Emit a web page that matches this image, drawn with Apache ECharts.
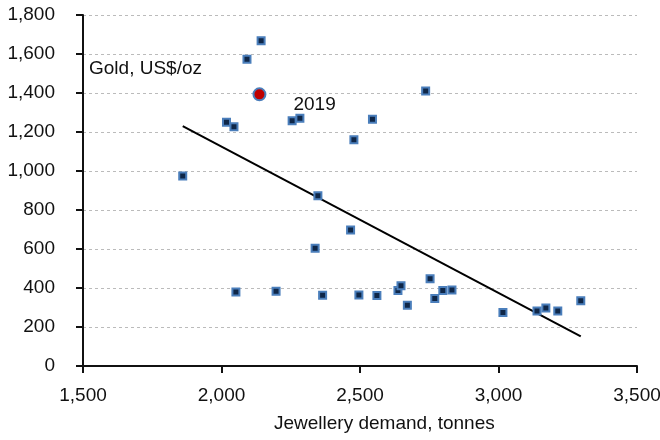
<!DOCTYPE html>
<html>
<head>
<meta charset="utf-8">
<script src="https://cdn.jsdelivr.net/npm/echarts@6/dist/echarts.min.js"></script>
<style>
  html, body { margin: 0; padding: 0; background: #fff; }
  #chart { width: 660px; height: 440px; }
</style>
</head>
<body>
<div id="chart"></div>
<script>
// jewellery demand (tonnes) vs gold price (US$/oz)
const demand = [1860, 2018, 2045, 2092, 2143, 2255, 2283, 2348, 2737, 2545, 2478, 2338, 2052, 2197, 2365, 2466,
  2496, 2561, 2637, 2648, 2671, 2753, 2770, 2799, 2832, 3016, 3139, 3171, 3214, 3297]
const price = [975, 1250, 1227, 1573, 1668, 1258, 1270, 873, 1410, 1266, 1160, 604, 380, 383, 363, 697,
  364, 361, 387, 411, 312, 447, 346, 387, 390, 274, 282, 298, 282, 334]
// 2019 highlighted
const point2019 = [2137, 1393]
// linear trend end points
const trendX = [1860, 3297]
const trendY = [1230, 152]

const FONT = '"Liberation Sans", Arial, sans-serif'
const FS = 19

const chart = echarts.init(document.getElementById('chart'))
chart.setOption({
  animation: false,
  backgroundColor: '#fff',
  textStyle: { fontFamily: FONT },
  grid: { left: 83, right: 23, top: 15, bottom: 74, outerBoundsMode: 'none', containLabel: false },
  graphic: [
    {
      type: 'text',
      left: 89,
      top: 59,
      style: { text: 'Gold, US$/oz', fontSize: FS, fontFamily: FONT, fill: '#111' }
    },
    {
      type: 'text',
      left: 274,
      top: 414,
      style: { text: 'Jewellery demand, tonnes', fontSize: FS, fontFamily: FONT, fill: '#111' }
    }
  ],
  xAxis: {
    type: 'value',
    min: 1500,
    max: 3500,
    interval: 500,
    axisLine: { show: true, lineStyle: { color: '#111', width: 2 } },
    axisTick: { show: true, length: 7, lineStyle: { color: '#111', width: 2 } },
    axisLabel: {
      color: '#111',
      fontSize: FS,
      margin: 20,
      formatter: v => v.toLocaleString('en-US')
    },
    splitLine: { show: false }
  },
  yAxis: {
    type: 'value',
    min: 0,
    max: 1800,
    interval: 200,
    axisLine: { show: true, lineStyle: { color: '#111', width: 2 } },
    axisTick: { show: true, length: 7, lineStyle: { color: '#111', width: 2 } },
    axisLabel: {
      color: '#111',
      fontSize: FS,
      margin: 28,
      formatter: v => v.toLocaleString('en-US')
    },
    splitLine: { show: true, lineStyle: { color: '#bbb', type: [3, 3], width: 1 } }
  },
  series: [
    {
      type: 'line',
      data: trendX.map((x, i) => [x, trendY[i]]),
      symbol: 'none',
      lineStyle: { color: '#000', width: 2 },
      z: 2
    },
    {
      type: 'scatter',
      data: demand.map((x, i) => [x, price[i]]),
      symbol: 'rect',
      symbolSize: 7,
      itemStyle: { color: '#0f2748', borderColor: '#4a7ebb', borderWidth: 2, opacity: 1 },
      z: 3
    },
    {
      type: 'scatter',
      data: [point2019],
      symbol: 'circle',
      symbolSize: 12,
      itemStyle: { color: '#c00000', borderColor: '#4a7ebb', borderWidth: 2, opacity: 1 },
      label: {
        show: true,
        formatter: '2019',
        position: 'right',
        offset: [22, 10],
        color: '#111',
        fontSize: FS,
        fontFamily: FONT
      },
      emphasis: { disabled: true },
      z: 4
    }
  ]
})
</script>
</body>
</html>
